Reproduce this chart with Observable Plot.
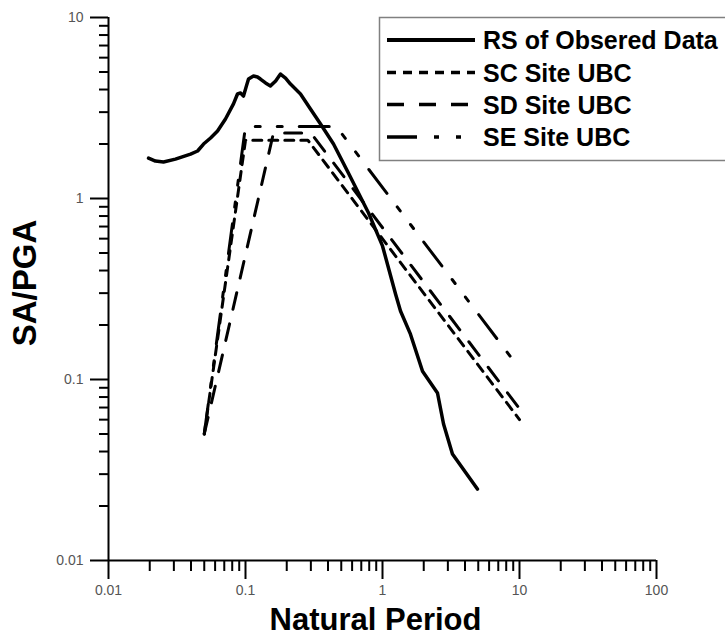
<!DOCTYPE html>
<html><head><meta charset="utf-8">
<script src="https://cdn.jsdelivr.net/npm/d3@7"></script>
<script src="https://cdn.jsdelivr.net/npm/@observablehq/plot@0.6"></script>
<style>
html,body{margin:0;padding:0;background:#fff;}
#wrap{position:relative;width:725px;height:637px;overflow:hidden;background:#fff;}
#legend{position:absolute;left:0;top:0;}
</style></head><body><div id="wrap"></div>
<script>
// ---- data ----
const seriesNames = ["RS of Obsered Data", "SC Site UBC", "SD Site UBC", "SE Site UBC"];

const rsPeriod = [0.0196,0.022,0.0252,0.0308,0.0397,0.0447,0.0494,0.0556,0.0625,0.0714,0.0817,0.0874,0.092,0.0967,0.1016,0.1052,0.1144,0.1224,0.1285,0.140,0.152,0.166,0.180,0.196,0.213,0.252,0.298,0.353,0.439,0.565,0.791,1.0,1.245,1.353,1.60,1.96,2.52,2.79,3.24,4.93];
const rsValue  = [1.67,1.61,1.59,1.65,1.76,1.83,2.00,2.16,2.36,2.75,3.33,3.78,3.83,3.68,4.19,4.57,4.75,4.69,4.57,4.35,4.19,4.46,4.87,4.63,4.29,3.78,3.12,2.58,2.00,1.38,0.832,0.547,0.297,0.239,0.178,0.111,0.0842,0.0568,0.0388,0.0248];

const scPeriod = [0.05, 0.1, 0.285, 10];
const scValue  = [0.05, 2.1, 2.1, 0.06];
const sdPeriod = [0.05, 0.16, 0.30, 10];
const sdValue  = [0.05, 2.3, 2.3, 0.069];
const sePeriod = [0.05, 0.1, 0.46, 10];
const seValue  = [0.05, 2.5, 2.5, 0.115];

const xMajor = [0.01, 0.1, 1, 10, 100];
const xMajorLabels = ["0.01", "0.1", "1", "10", "100"];
const yMajor = [0.01, 0.1, 1, 10];
const yMajorLabels = ["0.01", "0.1", "1", "10"];
const minorSteps = [2, 3, 4, 5, 6, 7, 8, 9];

// ---- styles ----
const styles = {
  "RS of Obsered Data": {strokeWidth: 3.5, dash: null},
  "SC Site UBC": {strokeWidth: 3, dash: "9,7"},
  "SD Site UBC": {strokeWidth: 3, dash: "17,15"},
  "SE Site UBC": {strokeWidth: 3, dash: "30,17,5,17,5,17"}
};

const toRows = (name, P, V) => P.map((p, i) => ({series: name, period: p, value: V[i]}));
const seriesData = [
  toRows(seriesNames[0], rsPeriod, rsValue),
  toRows(seriesNames[1], scPeriod, scValue),
  toRows(seriesNames[2], sdPeriod, sdValue),
  toRows(seriesNames[3], sePeriod, seValue)
];

const xMinor = xMajor.slice(0, -1).flatMap(d => minorSteps.map(k => +(k * d).toPrecision(3)));
const yMinor = yMajor.slice(0, -1).flatMap(d => minorSteps.map(k => +(k * d).toPrecision(3)));

const lineMarks = seriesData.map(rows => {
  const s = styles[rows[0].series];
  return Plot.line(rows, {x: "period", y: "value", stroke: "#000", strokeWidth: s.strokeWidth,
    strokeDasharray: s.dash, strokeLinejoin: "round", curve: "linear"});
});

const chart = Plot.plot({
  width: 725, height: 637,
  marginLeft: 108, marginRight: 69, marginTop: 17, marginBottom: 77,
  style: {fontFamily: "'Liberation Sans', Arial, sans-serif", fontSize: "14px", background: "#fff", color: "#000"},
  x: {type: "log", domain: [0.01, 100]},
  y: {type: "log", domain: [0.01, 10]},
  marks: [
    Plot.axisX(xMinor, {anchor: "bottom", tickSize: 11, strokeWidth: 2, fill: "none", label: null}),
    Plot.axisX(xMajor, {anchor: "bottom", tickSize: 19, strokeWidth: 2, tickPadding: 6, fill: "#555", fontSize: 14,
      tickFormat: d => xMajorLabels[xMajor.indexOf(d)], label: null}),
    Plot.axisY(yMinor, {anchor: "left", tickSize: 9, strokeWidth: 2, fill: "none", label: null}),
    Plot.axisY(yMajor, {anchor: "left", tickSize: 18, strokeWidth: 2, tickPadding: 7, fill: "#555", fontSize: 14,
      tickFormat: d => yMajorLabels[yMajor.indexOf(d)], label: null}),
    Plot.ruleY([0.01], {stroke: "#000", strokeWidth: 2}),
    Plot.ruleX([0.01], {stroke: "#000", strokeWidth: 2}),
    ...lineMarks,
    Plot.text(["Natural Period"], {frameAnchor: "bottom", lineAnchor: "middle", dy: 60, dx: -7,
      fontSize: 31, fontWeight: "bold", fill: "#000"}),
    Plot.text(["SA/PGA"], {frameAnchor: "left", lineAnchor: "middle", textAnchor: "middle", rotate: -90, dx: -83, dy: -6,
      fontSize: 33, fontWeight: "bold", fill: "#000"})
  ]
});

// make the tick labels the size seen in the reference
d3.select(chart).selectAll("g[aria-label$='tick label']").attr("font-size", 14).style("font-size", "14px");
d3.select(chart).selectAll("g[aria-label$='tick label'] text").style("font-size", "14px");

const wrap = document.getElementById("wrap");
wrap.appendChild(chart);

// ---- legend (overlay) ----
const legend = d3.select(wrap).append("svg").attr("id", "legend")
  .attr("width", 725).attr("height", 637)
  .style("font-family", "'Liberation Sans', Arial, sans-serif");
legend.append("rect").attr("x", 379.5).attr("y", 17.5).attr("width", 420).attr("height", 143)
  .attr("fill", "#fff").attr("stroke", "#808080").attr("stroke-width", 1.5);
const rowY = [40, 72.5, 104.5, 137];
seriesNames.forEach((name, i) => {
  const s = styles[name];
  legend.append("line").attr("x1", 387).attr("x2", 475).attr("y1", rowY[i]).attr("y2", rowY[i])
    .attr("stroke", "#000").attr("stroke-width", s.strokeWidth + 0.5)
    .attr("stroke-dasharray", s.dash);
  legend.append("text").attr("x", 483).attr("y", rowY[i]).attr("dy", "0.36em")
    .attr("font-size", 25).attr("font-weight", "bold").attr("fill", "#000")
    .text(name);
});
</script></body></html>
